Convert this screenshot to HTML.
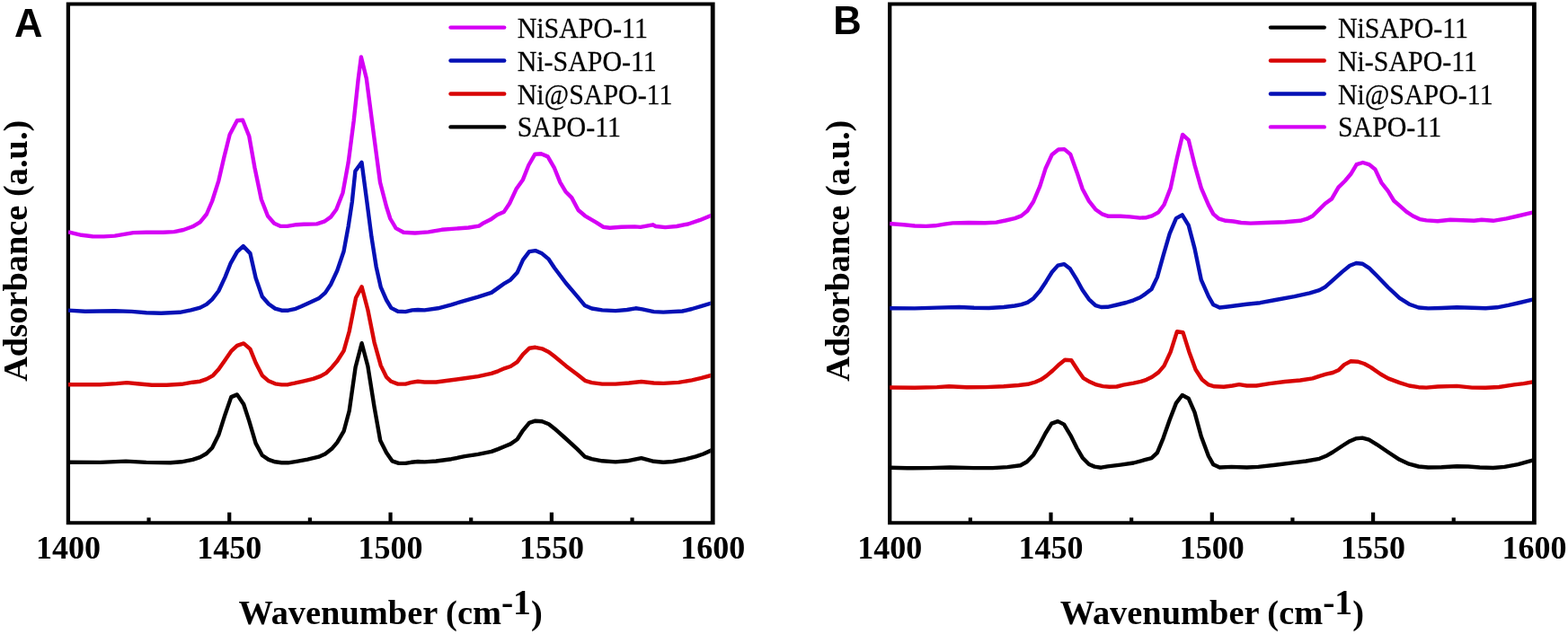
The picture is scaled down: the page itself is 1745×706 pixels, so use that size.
<!DOCTYPE html>
<html lang="en">
<head>
<meta charset="utf-8">
<title>Adsorbance vs Wavenumber</title>
<style>
html,body{margin:0;padding:0;background:#fff;}
body{width:1745px;height:706px;overflow:hidden;}
svg{display:block;}
text{fill:#000;}
.tick{font-family:"Liberation Serif",serif;font-weight:bold;font-size:36px;}
.title{font-family:"Liberation Serif",serif;font-weight:bold;font-size:38.4px;}
.xt{font-size:38.4px;}
.leg{font-family:"Liberation Serif",serif;font-size:32px;stroke:#000;stroke-width:0.25px;}
.letter{font-family:"Liberation Sans",sans-serif;font-weight:bold;font-size:43.5px;}
</style>
</head>
<body>
<svg width="1745" height="706" viewBox="0 0 1745 706">
<rect x="0" y="0" width="1745" height="706" fill="#ffffff"/>
<path fill="#000" fill-rule="evenodd" d="M73.75,2.57H795.60V584.32H73.75Z M78.05,6.62H790.80V580.27H78.05Z"/>
<clipPath id="ca"><rect x="75.90" y="6.62" width="714.90" height="573.65"/></clipPath>
<g clip-path="url(#ca)">
<polyline points="76.0,514.7 111.3,514.9 140.1,513.6 162.8,514.9 189.7,515.3 202.0,514.3 214.4,511.8 222.7,509.1 229.9,505.0 236.1,498.8 243.3,484.3 250.5,461.7 257.3,442.1 263.9,439.4 271.2,450.3 277.3,468.9 284.6,493.6 291.8,507.0 299.0,511.8 306.2,514.3 313.4,515.3 320.7,515.3 330.0,513.8 342.3,511.6 354.7,508.7 361.9,505.4 369.2,499.8 375.3,492.6 382.6,480.2 388.7,457.5 395.6,409.0 402.6,382.2 409.4,408.0 416.6,453.4 423.2,490.5 430.0,504.0 436.4,513.3 443.8,515.9 451.3,515.9 457.6,514.8 465.1,514.0 472.5,514.4 485.3,513.5 502.3,511.2 517.1,508.2 532.0,505.9 546.9,502.9 554.3,500.1 561.8,497.0 568.2,494.4 575.6,489.3 582.0,479.3 589.0,470.8 595.8,468.7 603.2,469.3 610.7,472.3 617.0,477.2 629.8,488.5 642.5,500.1 651.0,508.7 658.5,511.2 670.2,513.3 685.0,514.4 697.8,513.3 713.7,510.1 727.6,513.8 738.2,514.8 748.8,514.0 763.7,511.2 774.3,508.4 782.8,505.5 793.0,500.8" fill="none" stroke="#000000" stroke-width="4.4" stroke-linejoin="round" stroke-linecap="butt"/>
<polyline points="76.0,428.2 111.3,428.2 129.8,427.1 141.2,426.1 152.5,427.3 169.0,428.8 185.5,428.8 202.0,427.8 214.4,425.7 222.7,424.7 229.9,422.2 237.1,418.1 243.3,411.3 250.5,400.9 257.7,390.6 263.9,384.8 271.2,382.4 278.4,388.6 284.6,404.0 291.8,418.1 299.0,424.3 306.2,427.3 313.4,428.4 320.7,428.2 327.9,426.7 338.2,424.3 348.5,421.9 356.8,418.9 363.0,415.4 369.2,409.2 375.3,402.0 382.6,390.6 388.7,369.0 396.0,331.8 402.6,319.4 409.4,345.2 416.6,381.3 423.8,407.1 430.0,419.8 435.3,424.8 442.8,427.6 451.3,427.6 457.6,425.9 465.1,424.8 472.5,425.5 485.3,425.5 502.3,423.3 517.1,421.2 532.0,419.1 546.9,415.9 554.3,413.3 561.8,410.1 568.2,408.0 575.6,403.1 582.0,394.6 589.0,387.8 595.8,386.8 603.2,388.3 610.7,391.9 617.0,396.8 629.8,407.4 642.5,417.0 651.0,423.8 658.5,426.1 670.2,427.6 685.0,427.6 699.9,426.5 713.7,425.0 727.6,426.5 738.2,426.9 755.2,425.9 770.1,423.3 780.7,420.8 793.0,417.6" fill="none" stroke="#D80505" stroke-width="4.4" stroke-linejoin="round" stroke-linecap="butt"/>
<polyline points="76.0,345.6 94.8,346.7 127.8,346.3 146.3,346.9 162.8,348.2 179.3,348.8 200.0,347.8 212.4,345.3 222.7,342.6 229.9,338.9 236.1,333.3 243.3,324.0 250.5,308.6 256.7,293.1 263.9,280.3 270.7,274.1 278.4,282.1 284.6,309.6 291.8,330.2 299.0,338.5 306.2,343.6 313.4,345.7 320.7,345.7 327.9,344.2 335.1,341.2 342.3,337.9 354.7,332.3 361.9,326.1 368.1,316.8 375.3,301.3 382.6,279.7 387.7,251.8 391.8,225.0 395.4,190.5 402.5,180.7 408.4,225.0 413.5,264.2 418.7,297.2 423.8,319.9 430.0,334.0 435.3,342.9 442.8,346.7 451.3,347.1 458.7,345.4 465.1,345.0 472.5,345.4 487.4,343.3 502.3,339.3 517.1,334.8 532.0,330.6 546.9,325.9 554.3,320.6 561.8,315.3 568.2,311.6 575.6,303.6 582.0,289.3 589.0,280.2 595.8,279.1 603.2,282.3 610.7,288.7 617.0,298.3 629.8,315.3 642.5,330.1 651.0,340.3 658.5,343.5 670.2,345.4 685.0,346.1 697.8,345.0 707.4,343.3 714.8,344.4 727.6,347.1 738.2,347.6 759.4,346.5 770.1,344.0 780.7,340.8 793.0,337.2" fill="none" stroke="#0510B5" stroke-width="4.4" stroke-linejoin="round" stroke-linecap="butt"/>
<polyline points="76.0,258.5 77.2,258.7 90.6,261.8 103.0,263.2 115.4,263.4 127.8,262.6 138.1,260.8 148.4,259.1 162.8,258.7 181.4,258.7 193.8,258.1 204.1,256.0 214.4,252.3 222.7,247.3 229.9,238.5 236.1,224.0 243.3,201.3 249.5,174.5 255.7,149.8 263.9,134.3 270.1,133.7 277.3,151.8 283.5,186.9 290.8,222.0 298.0,240.5 305.2,248.8 312.4,251.9 319.6,251.9 330.0,250.2 338.2,249.8 352.6,249.4 360.9,246.7 368.1,241.6 374.3,233.3 381.5,214.7 387.7,180.7 393.7,134.5 398.6,88.9 401.9,63.5 407.8,87.2 416.5,154.0 423.0,203.0 430.0,230.0 434.3,243.5 440.6,254.1 449.1,258.8 461.9,259.5 476.8,258.4 491.6,255.8 506.5,254.6 521.4,253.5 533.1,251.6 538.4,248.2 545.8,244.6 553.3,239.3 560.7,236.1 567.1,226.5 574.5,210.6 582.0,199.9 588.3,184.0 595.4,171.7 602.2,171.3 609.6,174.4 617.0,187.2 623.4,203.1 629.8,213.8 636.2,220.1 643.6,234.0 651.0,240.3 663.8,247.8 671.2,252.7 678.7,253.7 691.4,252.7 706.3,252.4 712.7,252.9 726.5,250.3 729.7,252.0 740.3,253.1 753.1,252.0 765.8,249.5 778.6,245.2 793.0,239.3" fill="none" stroke="#D500F5" stroke-width="4.4" stroke-linejoin="round" stroke-linecap="butt"/>
</g>
<line x1="165.56" y1="576.4" x2="165.56" y2="582.2" stroke="#000" stroke-width="4.2"/>
<line x1="255.23" y1="570.6" x2="255.23" y2="582.2" stroke="#000" stroke-width="4.2"/>
<line x1="344.89" y1="576.4" x2="344.89" y2="582.2" stroke="#000" stroke-width="4.2"/>
<line x1="434.55" y1="570.6" x2="434.55" y2="582.2" stroke="#000" stroke-width="4.2"/>
<line x1="524.21" y1="576.4" x2="524.21" y2="582.2" stroke="#000" stroke-width="4.2"/>
<line x1="613.88" y1="570.6" x2="613.88" y2="582.2" stroke="#000" stroke-width="4.2"/>
<line x1="703.54" y1="576.4" x2="703.54" y2="582.2" stroke="#000" stroke-width="4.2"/>
<text x="75.90" y="622.4" class="tick" text-anchor="middle">1400</text>
<text x="255.23" y="622.4" class="tick" text-anchor="middle">1450</text>
<text x="434.55" y="622.4" class="tick" text-anchor="middle">1500</text>
<text x="613.88" y="622.4" class="tick" text-anchor="middle">1550</text>
<text x="793.20" y="622.4" class="tick" text-anchor="middle">1600</text>
<text x="434.55" y="695" class="title xt" text-anchor="middle">Wavenumber (cm<tspan dy="-11.5" style="font-size:39.6px">-1</tspan><tspan dy="11.5">)</tspan></text>
<text transform="translate(30.30,279.3) rotate(-90)" class="title" text-anchor="middle">Adsorbance (a.u.)</text>
<text x="16.0" y="40.7" class="letter">A</text>
<line x1="501.5" y1="30.6" x2="561.2" y2="30.6" stroke="#D500F5" stroke-width="4.4" stroke-linecap="round"/>
<text transform="translate(575.7,41.6) scale(0.935,1)" class="leg">NiSAPO-11</text>
<line x1="501.5" y1="67.5" x2="561.2" y2="67.5" stroke="#0510B5" stroke-width="4.4" stroke-linecap="round"/>
<text transform="translate(575.7,78.5) scale(0.935,1)" class="leg">Ni-SAPO-11</text>
<line x1="501.5" y1="104.5" x2="561.2" y2="104.5" stroke="#D80505" stroke-width="4.4" stroke-linecap="round"/>
<text transform="translate(575.7,115.5) scale(0.935,1)" class="leg">Ni@SAPO-11</text>
<line x1="501.5" y1="141.4" x2="561.2" y2="141.4" stroke="#000000" stroke-width="4.4" stroke-linecap="round"/>
<text transform="translate(575.7,152.4) scale(0.935,1)" class="leg">SAPO-11</text>
<path fill="#000" fill-rule="evenodd" d="M988.05,2.57H1709.80V584.32H988.05Z M992.35,6.62H1705.00V580.27H992.35Z"/>
<clipPath id="cb"><rect x="990.20" y="6.62" width="714.80" height="573.65"/></clipPath>
<g clip-path="url(#cb)">
<polyline points="990.0,520.7 1009.8,521.3 1034.5,521.1 1057.2,520.5 1084.0,521.1 1104.7,521.1 1121.2,520.1 1135.6,518.2 1142.8,514.3 1150.1,506.7 1157.3,494.3 1163.5,482.5 1170.3,471.6 1177.3,469.1 1184.1,472.6 1191.3,484.6 1198.5,499.0 1204.7,509.7 1211.9,517.0 1218.1,519.6 1225.4,520.7 1232.6,519.4 1247.0,517.6 1261.5,515.5 1273.8,512.2 1281.5,510.2 1287.9,504.2 1294.5,488.1 1301.7,467.5 1308.9,448.9 1315.7,440.0 1322.7,443.7 1329.5,459.2 1336.8,486.0 1345.0,508.0 1350.3,517.3 1357.3,520.5 1370.5,519.9 1387.5,520.5 1400.3,519.9 1419.4,517.8 1436.4,515.6 1453.4,513.5 1468.3,510.8 1475.7,507.8 1483.2,503.5 1493.8,496.5 1502.3,491.2 1508.7,488.4 1516.1,487.6 1523.5,489.7 1532.0,494.8 1544.8,503.5 1557.5,511.8 1568.2,516.7 1578.8,519.5 1589.4,520.5 1604.3,520.3 1621.3,519.3 1634.0,519.5 1646.8,520.5 1661.7,521.0 1674.4,519.9 1689.3,517.1 1707.0,512.3" fill="none" stroke="#000000" stroke-width="4.4" stroke-linejoin="round" stroke-linecap="butt"/>
<polyline points="990.0,431.5 1018.0,431.7 1042.8,431.1 1056.2,430.3 1075.8,431.3 1096.4,431.1 1117.0,430.3 1133.5,429.0 1143.9,427.8 1152.1,425.5 1158.3,422.8 1164.5,418.7 1171.7,412.5 1178.9,405.7 1185.1,400.8 1192.3,401.2 1199.6,412.5 1205.8,421.2 1213.0,425.3 1220.2,428.4 1227.4,430.1 1234.6,430.7 1242.9,430.5 1250.1,428.6 1261.5,426.6 1269.7,424.9 1275.9,422.8 1282.1,419.7 1289.3,414.6 1295.5,407.4 1302.7,391.9 1309.9,369.2 1316.5,370.2 1323.4,391.9 1330.6,411.5 1337.8,422.8 1345.0,428.4 1351.4,430.3 1362.0,430.7 1371.6,429.5 1379.0,428.2 1387.5,429.5 1398.1,429.5 1413.0,427.1 1430.0,425.0 1447.0,423.5 1460.8,421.4 1468.3,418.8 1475.7,416.7 1483.2,415.0 1489.5,412.3 1495.9,406.1 1503.3,402.3 1510.8,402.7 1518.2,405.0 1525.7,409.1 1536.3,416.5 1544.8,421.4 1557.5,426.1 1568.2,429.5 1578.8,431.2 1587.3,431.6 1600.0,430.5 1621.3,429.9 1638.3,431.6 1653.2,431.8 1668.1,431.0 1685.1,428.4 1695.7,427.1 1707.0,425.1" fill="none" stroke="#D80505" stroke-width="4.4" stroke-linejoin="round" stroke-linecap="butt"/>
<polyline points="990.0,343.2 1018.0,343.4 1042.8,342.6 1067.5,342.0 1084.0,342.8 1100.5,343.0 1117.0,342.0 1129.4,340.5 1136.6,339.1 1143.4,336.8 1150.1,332.3 1157.3,324.0 1164.1,313.7 1170.7,303.0 1177.3,295.6 1184.1,294.1 1190.9,299.3 1198.5,311.7 1204.7,323.0 1211.9,333.3 1219.2,340.1 1225.4,342.0 1232.6,341.8 1242.9,339.5 1253.2,337.0 1261.5,334.3 1268.7,331.3 1274.9,327.1 1281.5,322.0 1287.9,308.6 1294.5,284.8 1301.7,260.1 1308.9,243.2 1315.7,239.4 1322.7,250.8 1329.5,276.6 1336.8,311.7 1345.0,330.2 1350.3,339.3 1357.3,342.5 1366.3,341.5 1387.5,338.7 1402.4,337.2 1419.4,334.0 1440.6,330.2 1457.6,326.4 1468.3,323.2 1474.7,319.6 1483.2,312.1 1493.8,302.6 1502.3,295.8 1509.3,293.0 1516.1,293.7 1523.5,298.3 1532.0,306.8 1544.8,320.0 1557.5,331.9 1568.2,338.7 1578.8,342.5 1589.4,343.4 1604.3,343.0 1621.3,342.3 1638.3,342.7 1653.2,343.2 1665.9,342.3 1678.7,339.8 1691.4,337.0 1707.0,333.2" fill="none" stroke="#0510B5" stroke-width="4.4" stroke-linejoin="round" stroke-linecap="butt"/>
<polyline points="990.0,249.0 992.2,249.2 1005.6,250.3 1018.0,251.5 1030.4,251.9 1040.7,251.3 1051.0,249.7 1060.3,248.4 1077.8,248.0 1096.4,248.2 1108.8,247.6 1119.1,245.5 1129.4,243.1 1136.6,240.4 1143.4,234.8 1150.1,224.5 1157.3,207.4 1163.5,187.8 1170.7,172.3 1177.9,166.5 1184.5,166.1 1191.3,171.9 1198.5,191.9 1204.7,210.5 1211.9,223.9 1219.2,233.2 1226.4,238.3 1233.6,240.8 1247.0,240.8 1257.3,241.4 1268.7,242.6 1275.9,242.2 1282.1,240.4 1289.3,236.3 1295.5,228.0 1302.7,209.4 1310.0,175.4 1316.1,150.0 1322.7,155.8 1329.5,183.6 1336.8,209.4 1345.0,228.4 1350.3,238.4 1356.7,243.7 1364.1,245.8 1372.6,246.5 1381.1,248.0 1391.8,248.6 1408.8,248.0 1430.0,247.3 1447.0,245.8 1454.5,243.7 1460.8,240.5 1468.3,233.1 1474.7,226.7 1482.1,221.4 1489.5,208.6 1497.0,201.2 1503.3,193.8 1509.7,183.1 1516.7,181.0 1523.5,183.1 1530.3,188.4 1537.3,203.3 1544.8,212.9 1551.2,223.5 1558.6,229.9 1565.0,235.6 1572.4,240.5 1579.9,244.1 1587.3,245.4 1600.0,246.3 1613.9,244.8 1627.7,245.2 1640.4,245.8 1648.9,244.8 1661.7,245.8 1676.6,243.3 1689.3,240.5 1707.0,236.3" fill="none" stroke="#D500F5" stroke-width="4.4" stroke-linejoin="round" stroke-linecap="butt"/>
</g>
<line x1="1079.85" y1="576.4" x2="1079.85" y2="582.2" stroke="#000" stroke-width="4.2"/>
<line x1="1169.50" y1="570.6" x2="1169.50" y2="582.2" stroke="#000" stroke-width="4.2"/>
<line x1="1259.15" y1="576.4" x2="1259.15" y2="582.2" stroke="#000" stroke-width="4.2"/>
<line x1="1348.80" y1="570.6" x2="1348.80" y2="582.2" stroke="#000" stroke-width="4.2"/>
<line x1="1438.45" y1="576.4" x2="1438.45" y2="582.2" stroke="#000" stroke-width="4.2"/>
<line x1="1528.10" y1="570.6" x2="1528.10" y2="582.2" stroke="#000" stroke-width="4.2"/>
<line x1="1617.75" y1="576.4" x2="1617.75" y2="582.2" stroke="#000" stroke-width="4.2"/>
<text x="990.20" y="622.4" class="tick" text-anchor="middle">1400</text>
<text x="1169.50" y="622.4" class="tick" text-anchor="middle">1450</text>
<text x="1348.80" y="622.4" class="tick" text-anchor="middle">1500</text>
<text x="1528.10" y="622.4" class="tick" text-anchor="middle">1550</text>
<text x="1707.40" y="622.4" class="tick" text-anchor="middle">1600</text>
<text x="1348.80" y="695" class="title xt" text-anchor="middle">Wavenumber (cm<tspan dy="-11.5" style="font-size:39.6px">-1</tspan><tspan dy="11.5">)</tspan></text>
<text transform="translate(944.60,279.3) rotate(-90)" class="title" text-anchor="middle">Adsorbance (a.u.)</text>
<text x="927.3" y="38" class="letter">B</text>
<line x1="1414.0" y1="30.6" x2="1473.8" y2="30.6" stroke="#000000" stroke-width="4.4" stroke-linecap="round"/>
<text transform="translate(1488.9,41.6) scale(0.935,1)" class="leg">NiSAPO-11</text>
<line x1="1414.0" y1="67.5" x2="1473.8" y2="67.5" stroke="#D80505" stroke-width="4.4" stroke-linecap="round"/>
<text transform="translate(1488.9,78.5) scale(0.935,1)" class="leg">Ni-SAPO-11</text>
<line x1="1414.0" y1="104.5" x2="1473.8" y2="104.5" stroke="#0510B5" stroke-width="4.4" stroke-linecap="round"/>
<text transform="translate(1488.9,115.5) scale(0.935,1)" class="leg">Ni@SAPO-11</text>
<line x1="1414.0" y1="141.4" x2="1473.8" y2="141.4" stroke="#D500F5" stroke-width="4.4" stroke-linecap="round"/>
<text transform="translate(1488.9,152.4) scale(0.935,1)" class="leg">SAPO-11</text>
</svg>
</body>
</html>
